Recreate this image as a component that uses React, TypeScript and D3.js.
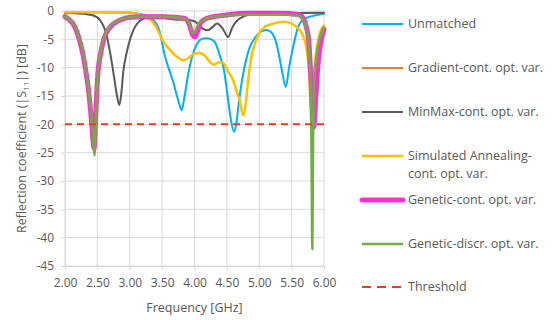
import { useEffect, useRef } from 'react';
import * as d3 from 'd3';

// [frequency GHz, |S11| dB]
const unmatched: [number, number][] = [
  [2.0, -0.2], [2.5, -0.2], [3.0, -0.3], [3.2, -0.6], [3.3, -1.0], [3.38, -1.8], [3.45, -3.2],
  [3.54, -7.8], [3.67, -12.5], [3.76, -16.2], [3.8, -17.5], [3.84, -15.5], [3.9, -11.3],
  [3.96, -8.2], [4.03, -6.0], [4.1, -5.0], [4.18, -4.8], [4.26, -5.0], [4.32, -5.6], [4.4, -8.2],
  [4.45, -10.1], [4.5, -14], [4.55, -18.3], [4.61, -21.3], [4.65, -19.5], [4.68, -16.6],
  [4.73, -12.5], [4.78, -9.5], [4.85, -6.5], [4.93, -4.8], [5.02, -3.7], [5.11, -3.35],
  [5.18, -3.7], [5.24, -4.8], [5.3, -7.5], [5.35, -10.5], [5.41, -13.4], [5.46, -10],
  [5.53, -6.0], [5.6, -2.8], [5.66, -1.7], [5.73, -1.2], [5.85, -0.8], [6.0, -0.5],
];

const gradientCont: [number, number][] = [
  [2.0, -1.0], [2.05, -1.4], [2.12, -2.2], [2.18, -3.6], [2.23, -5.4], [2.28, -7.8], [2.32, -10.5],
  [2.36, -13.6], [2.39, -17], [2.41, -19.5], [2.43, -22], [2.45, -23.5], [2.47, -19.5],
  [2.49, -14.5], [2.51, -10.7], [2.55, -7.5], [2.59, -5.4], [2.64, -3.8], [2.7, -2.8],
  [2.78, -2.0], [2.85, -1.6], [3.0, -1.1], [3.2, -1.0], [3.5, -1.0], [3.7, -1.1], [3.85, -1.3],
  [3.92, -2.3], [3.97, -4.0], [4.01, -4.5], [4.05, -3.3], [4.09, -2.1], [4.15, -1.5],
  [4.25, -1.1], [4.5, -0.7], [4.8, -0.4], [5.3, -0.4], [5.6, -0.6], [5.68, -1.3], [5.73, -3.0],
  [5.76, -4.8], [5.79, -10], [5.81, -15], [5.84, -19.8], [5.87, -16], [5.89, -12], [5.92, -8],
  [5.95, -5.3], [6.0, -2.9],
];

const minMaxCont: [number, number][] = [
  [2.0, -0.3], [2.15, -0.4], [2.3, -0.5], [2.44, -0.8], [2.54, -1.6], [2.6, -2.8], [2.64, -4.2],
  [2.68, -6.3], [2.72, -8.9], [2.76, -11.8], [2.8, -14.8], [2.84, -16.6], [2.87, -14.5],
  [2.9, -10.7], [2.94, -8.0], [2.98, -6.0], [3.04, -3.8], [3.11, -2.3], [3.2, -1.4], [3.3, -1.1],
  [3.5, -1.2], [3.7, -1.5], [3.9, -1.6], [4.0, -1.8], [4.08, -2.6], [4.14, -3.2], [4.21, -3.4],
  [4.28, -2.8], [4.35, -2.2], [4.44, -3.2], [4.52, -4.6], [4.58, -3.0], [4.65, -1.8],
  [4.75, -1.0], [4.85, -0.6], [5.2, -0.4], [6.0, -0.3],
];

const simAnnealing: [number, number][] = [
  [2.0, -0.2], [2.5, -0.2], [3.0, -0.3], [3.15, -0.6], [3.25, -1.0], [3.32, -1.6], [3.39, -2.5],
  [3.45, -3.8], [3.52, -5.4], [3.6, -6.6], [3.7, -7.8], [3.83, -8.7], [3.93, -8.1], [4.0, -7.5],
  [4.08, -7.4], [4.16, -7.9], [4.24, -9.0], [4.3, -9.5], [4.37, -9.1], [4.43, -9.1],
  [4.52, -10.7], [4.6, -12.3], [4.65, -14.2], [4.7, -15.8], [4.75, -18.4], [4.79, -16.5],
  [4.83, -12], [4.88, -8.0], [4.95, -5.2], [5.01, -3.7], [5.1, -2.7], [5.2, -2.3], [5.37, -1.9],
  [5.47, -2.1], [5.55, -2.6], [5.62, -3.3], [5.68, -4.5], [5.73, -6.6], [5.77, -11], [5.8, -17],
  [5.83, -14], [5.87, -8], [5.92, -4.5], [6.0, -2.6],
];

const geneticCont: [number, number][] = [
  [2.0, -1.0], [2.05, -1.4], [2.12, -2.2], [2.18, -3.6], [2.23, -5.4], [2.28, -7.8], [2.32, -10.5],
  [2.36, -13.6], [2.39, -17], [2.41, -19.5], [2.43, -22.5], [2.45, -24.2], [2.47, -20],
  [2.49, -14.5], [2.51, -10.7], [2.55, -7.5], [2.59, -5.4], [2.64, -3.8], [2.7, -2.8],
  [2.78, -2.0], [2.85, -1.6], [3.0, -1.1], [3.2, -1.0], [3.5, -1.0], [3.7, -1.1], [3.85, -1.3],
  [3.92, -2.4], [3.97, -4.2], [4.01, -4.6], [4.05, -3.5], [4.09, -2.2], [4.15, -1.5],
  [4.25, -1.1], [4.5, -0.7], [4.8, -0.4], [5.3, -0.4], [5.6, -0.6], [5.68, -1.3], [5.73, -3.0],
  [5.76, -4.8], [5.79, -10], [5.81, -15], [5.84, -20.5], [5.87, -16], [5.89, -12], [5.92, -8],
  [5.95, -5.5], [6.0, -3.2],
];

const geneticDiscr: [number, number][] = [
  [2.0, -1.0], [2.05, -1.3], [2.12, -2.1], [2.18, -3.5], [2.23, -5.2], [2.28, -7.6], [2.32, -10.3],
  [2.36, -13.4], [2.4, -17.5], [2.43, -21.5], [2.455, -25.5], [2.475, -20], [2.49, -14.5],
  [2.51, -10.5], [2.55, -7.3], [2.59, -5.2], [2.64, -3.7], [2.7, -2.7], [2.78, -1.9],
  [2.85, -1.5], [3.0, -1.1], [3.2, -1.0], [3.5, -1.0], [3.7, -1.1], [3.85, -1.4], [3.92, -2.3],
  [3.97, -3.9], [4.01, -3.6], [4.05, -2.5], [4.1, -1.8], [4.18, -1.3], [4.3, -1.0], [4.5, -0.8],
  [4.8, -0.6], [5.3, -0.6], [5.6, -0.8], [5.68, -1.5], [5.73, -3.2], [5.76, -5.5], [5.79, -12],
  [5.805, -22], [5.82, -42], [5.832, -22], [5.85, -12], [5.89, -7.5], [5.93, -5], [6.0, -3.0],
];

const threshold: [number, number][] = [[2.0, -20], [6.0, -20]];

const xTicks = [2.0, 2.5, 3.0, 3.5, 4.0, 4.5, 5.0, 5.5, 6.0];
const yTicks = [0, -5, -10, -15, -20, -25, -30, -35, -40, -45];

const series = [
  { name: 'Unmatched', data: unmatched, color: '#00b0f0', width: 2 },
  { name: 'Gradient-cont. opt. var.', data: gradientCont, color: '#ed7d31', width: 2 },
  { name: 'MinMax-cont. opt. var.', data: minMaxCont, color: '#595959', width: 2 },
  { name: 'Simulated Annealing-|cont. opt. var.', data: simAnnealing, color: '#ffc000', width: 2.5 },
  { name: 'Genetic-cont. opt. var.', data: geneticCont, color: '#ff33cc', width: 5 },
  { name: 'Genetic-discr. opt. var.', data: geneticDiscr, color: '#70ad47', width: 2.5 },
  { name: 'Threshold', data: threshold, color: '#e2401f', width: 2, dash: '7,5' },
];

const legendY = [24, 68, 112, 156, 200, 244, 287];

const App = () => {
  const svgRef = useRef<SVGSVGElement>(null);

  useEffect(() => {
    const width = 554;
    const height = 320;
    const marginLeft = 65;
    const marginTop = 11;
    const plotRight = 324;
    const plotBottom = 266;
    const font = '"Open Sans", sans-serif';
    const textColor = '#595959';

    const svg = d3.select(svgRef.current).attr('viewBox', [0, 0, width, height]);
    svg.selectAll('*').remove();

    const x = d3.scaleLinear().domain([2, 6]).range([marginLeft, plotRight]);
    const y = d3.scaleLinear().domain([-45, 0]).range([plotBottom, marginTop]);

    // grid
    svg.append('g')
      .selectAll('line')
      .data(yTicks)
      .join('line')
        .attr('x1', marginLeft).attr('x2', plotRight)
        .attr('y1', d => y(d)).attr('y2', d => y(d))
        .attr('stroke', '#d9d9d9');
    svg.append('g')
      .selectAll('line')
      .data(xTicks)
      .join('line')
        .attr('x1', d => x(d)).attr('x2', d => x(d))
        .attr('y1', marginTop).attr('y2', plotBottom)
        .attr('stroke', '#d9d9d9');

    // axes
    const styleAxis = (g: any) => {
      g.select('.domain').attr('stroke', '#d9d9d9');
      g.selectAll('.tick line').attr('stroke', '#d9d9d9');
      g.selectAll('.tick text')
        .attr('fill', textColor)
        .style('font-family', font)
        .style('font-size', '12px');
    };
    svg.append('g')
      .attr('transform', `translate(0,${plotBottom})`)
      .call(d3.axisBottom(x).tickValues(xTicks).tickFormat(d3.format('.2f')).tickSizeOuter(0).tickSize(4).tickPadding(8))
      .call(styleAxis);
    svg.append('g')
      .attr('transform', `translate(${marginLeft},0)`)
      .call(d3.axisLeft(y).tickValues(yTicks).tickFormat(d => String(d)).tickSizeOuter(0).tickSize(4).tickPadding(7))
      .call(styleAxis);

    // axis titles
    svg.append('text')
      .attr('x', (marginLeft + plotRight) / 2)
      .attr('y', 312)
      .attr('text-anchor', 'middle')
      .attr('fill', textColor)
      .style('font-family', font)
      .style('font-size', '12.5px')
      .text('Frequency [GHz]');

    const yTitle = svg.append('text')
      .attr('transform', `translate(26,${(marginTop + plotBottom) / 2}) rotate(-90)`)
      .attr('text-anchor', 'middle')
      .attr('fill', textColor)
      .style('font-family', font)
      .style('font-size', '12.5px');
    yTitle.append('tspan').text('Reflection coefficient (|S');
    yTitle.append('tspan').attr('dy', 3).style('font-size', '8px').text('11');
    yTitle.append('tspan').attr('dy', -3).text('|) [dB]');

    // series
    const line = d3.line<[number, number]>()
      .x(d => x(d[0]))
      .y(d => y(d[1]))
      .curve(d3.curveMonotoneX);

    svg.append('g')
      .selectAll('path')
      .data(series)
      .join('path')
        .attr('d', d => line(d.data))
        .attr('fill', 'none')
        .attr('stroke', d => d.color)
        .attr('stroke-width', d => d.width)
        .attr('stroke-dasharray', d => d.dash ?? null)
        .attr('stroke-linejoin', 'round')
        .attr('stroke-linecap', d => (d.dash ? 'butt' : 'round'));

    // legend
    const legend = svg.append('g')
      .selectAll('g')
      .data(series)
      .join('g')
        .attr('transform', (d, i) => `translate(362,${legendY[i]})`);

    legend.append('line')
      .attr('x1', 0).attr('x2', 41)
      .attr('stroke', d => d.color)
      .attr('stroke-width', d => d.width)
      .attr('stroke-dasharray', d => d.dash ? '9,6' : null)
      .attr('stroke-linecap', d => (d.width > 3 ? 'round' : 'butt'));

    legend.append('text')
      .attr('x', 46)
      .attr('fill', textColor)
      .style('font-family', font)
      .style('font-size', '12.5px')
      .selectAll('tspan')
      .data(d => d.name.split('|'))
      .join('tspan')
        .attr('x', 46)
        .attr('dy', (d, i) => (i === 0 ? '0.35em' : '18px'))
        .text(d => d);
  }, []);

  return (
    <div style={{ position: 'absolute', left: 0, top: 0 }}>
      <svg ref={svgRef} width={554} height={320} style={{ display: 'block', background: '#fff' }} />
    </div>
  );
};

export default App;
